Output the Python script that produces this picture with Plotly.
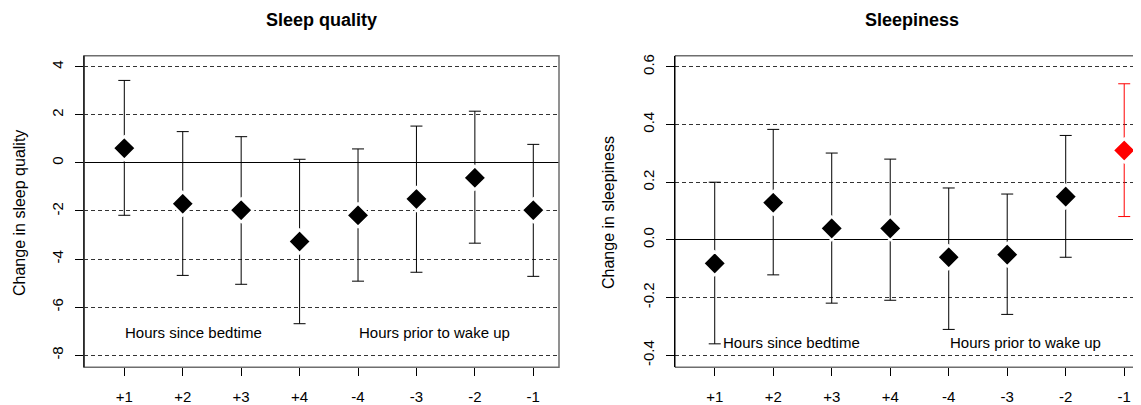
import plotly.graph_objects as go

# ---- data ----
categories = ["+1", "+2", "+3", "+4", "-4", "-3", "-2", "-1"]
positions = [1, 2, 3, 4, 5, 6, 7, 8]

quality_est = [0.61, -1.70, -1.97, -3.27, -2.18, -1.50, -0.62, -1.97]
quality_upper = [3.43, 1.30, 1.09, 0.15, 0.58, 1.53, 2.15, 0.77]
quality_lower = [-2.18, -4.68, -5.05, -6.69, -4.92, -4.55, -3.34, -4.72]

sleepiness_est = [-0.081, 0.129, 0.040, 0.040, -0.060, -0.051, 0.150, 0.310]
sleepiness_upper = [0.200, 0.383, 0.301, 0.280, 0.180, 0.159, 0.362, 0.541]
sleepiness_lower = [-0.360, -0.121, -0.219, -0.209, -0.310, -0.258, -0.060, 0.081]
sleepiness_highlight = [False, False, False, False, False, False, False, True]

quality_ticks = [4, 2, 0, -2, -4, -6, -8]
sleepiness_ticks = [0.6, 0.4, 0.2, 0.0, -0.2, -0.4]
sleepiness_ticktext = ["0.6", "0.4", "0.2", "0.0", "-0.2", "-0.4"]

FONT = "Liberation Sans, Arial, sans-serif"

fig = go.Figure()


def add_points(xs, ys, up, lo, color, xa, ya):
    fig.add_trace(go.Scatter(
        x=xs, y=ys, mode="markers", xaxis=xa, yaxis=ya,
        marker=dict(symbol="diamond", size=18, color=color,
                    line=dict(color="white", width=2.5)),
        error_y=dict(type="data", symmetric=False,
                     array=[u - y for u, y in zip(up, ys)],
                     arrayminus=[y - l for y, l in zip(ys, lo)],
                     color=color, thickness=1, width=6),
        showlegend=False, hoverinfo="skip"))


add_points(positions, quality_est, quality_upper, quality_lower, "black", "x", "y")

idx_n = [i for i, h in enumerate(sleepiness_highlight) if not h]
idx_h = [i for i, h in enumerate(sleepiness_highlight) if h]
add_points([positions[i] for i in idx_n], [sleepiness_est[i] for i in idx_n],
           [sleepiness_upper[i] for i in idx_n], [sleepiness_lower[i] for i in idx_n],
           "black", "x2", "y2")
add_points([positions[i] for i in idx_h], [sleepiness_est[i] for i in idx_h],
           [sleepiness_upper[i] for i in idx_h], [sleepiness_lower[i] for i in idx_h],
           "red", "x2", "y2")

W, H = 1141, 405
OFF = 8  # page body margin


def px(xp):
    return (xp - OFF) / W


def py(yp):
    return (H - (yp - OFF)) / H


ydom = [py(367), py(54)]

common_x = dict(tickvals=positions, ticktext=categories, ticks="outside", ticklen=8,
                tickcolor="black", showgrid=False, zeroline=False, showline=False,
                tickfont=dict(family=FONT, size=15, color="black"),
                ticklabelstandoff=8, fixedrange=True)
common_y = dict(ticks="outside", ticklen=8, tickcolor="black", tickangle=-90,
                showgrid=True, gridcolor="#333333", griddash="4px,3px", gridwidth=1,
                zeroline=True, zerolinecolor="black", zerolinewidth=1,
                showline=True, linecolor="black", linewidth=1,
                tickfont=dict(family=FONT, size=15, color="black"),
                ticklabelstandoff=6, fixedrange=True)

fig.update_layout(
    width=W, height=H,
    margin=dict(l=0, r=0, t=0, b=0),
    paper_bgcolor="white", plot_bgcolor="white",
    xaxis=dict(domain=[px(84), px(559)], range=[0.31, 8.44], anchor="y", **common_x),
    yaxis=dict(domain=ydom, range=[-8.50, 4.455], anchor="x",
               tickvals=quality_ticks, ticktext=[str(t) for t in quality_ticks], **common_y),
    xaxis2=dict(domain=[px(675), px(1141)], range=[0.321, 8.287], anchor="y2", **common_x),
    yaxis2=dict(domain=ydom, range=[-0.441, 0.638], anchor="x2",
                tickvals=sleepiness_ticks, ticktext=sleepiness_ticktext, **common_y),
)

# box frames
fig.add_shape(type="rect", xref="x domain", yref="y domain", x0=0, x1=1, y0=0, y1=1,
              line=dict(color="#6e6e6e", width=1.5), layer="above")
fig.add_shape(type="line", xref="x2 domain", yref="y2 domain", x0=0, x1=1.05, y0=1, y1=1,
              line=dict(color="#6e6e6e", width=1.5), layer="above")
fig.add_shape(type="line", xref="x2 domain", yref="y2 domain", x0=0, x1=1.05, y0=0, y1=0,
              line=dict(color="#6e6e6e", width=1.5), layer="above")
fig.add_shape(type="line", xref="x domain", yref="y domain", x0=0, x1=0, y0=0, y1=1,
              line=dict(color="black", width=1), layer="above")
fig.add_shape(type="line", xref="x2 domain", yref="y2 domain", x0=0, x1=0, y0=0, y1=1,
              line=dict(color="black", width=1), layer="above")

ann_font = dict(family=FONT, size=15, color="black")
annotations = [
    dict(text="<b>Sleep quality</b>", xref="paper", yref="paper", x=px(321), y=py(18),
         showarrow=False, font=dict(family=FONT, size=18, color="black"), xanchor="center", yanchor="middle"),
    dict(text="<b>Sleepiness</b>", xref="paper", yref="paper", x=px(912), y=py(18),
         showarrow=False, font=dict(family=FONT, size=18, color="black"), xanchor="center", yanchor="middle"),
    dict(text="Change in sleep quality", xref="paper", yref="paper", x=px(20), y=py(212),
         textangle=-90, showarrow=False, font=dict(family=FONT, size=16, color="black"),
         xanchor="center", yanchor="middle"),
    dict(text="Change in sleepiness", xref="paper", yref="paper", x=px(609), y=py(212),
         textangle=-90, showarrow=False, font=dict(family=FONT, size=16, color="black"),
         xanchor="center", yanchor="middle"),
    dict(text="Hours since bedtime", xref="x", yref="y", x=2.184, y=-7.06, showarrow=False,
         font=ann_font, xanchor="center", yanchor="middle"),
    dict(text="Hours prior to wake up", xref="x", yref="y", x=6.317, y=-7.06, showarrow=False,
         font=ann_font, xanchor="center", yanchor="middle"),
    dict(text="Hours since bedtime", xref="x2", yref="y2", x=2.32, y=-0.356, showarrow=False,
         font=ann_font, xanchor="center", yanchor="middle"),
    dict(text="Hours prior to wake up", xref="x2", yref="y2", x=6.32, y=-0.356, showarrow=False,
         font=ann_font, xanchor="center", yanchor="middle"),
]
fig.update_layout(annotations=annotations)

fig.write_html("out.html")
